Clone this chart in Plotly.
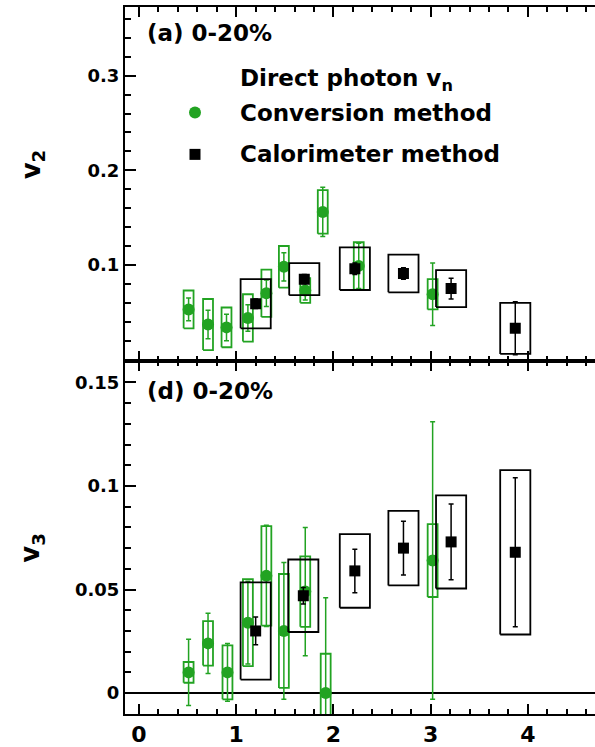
import plotly.graph_objects as go

# ---------------- data ----------------
# v2, conversion method
v2_conv_pt = [0.51, 0.71, 0.90, 1.12, 1.31, 1.49, 1.71, 1.89, 2.26, 3.02]
v2_conv = [0.053, 0.037, 0.034, 0.044, 0.070, 0.098, 0.073, 0.156, 0.099, 0.069]
v2_conv_stat = [0.012, 0.015, 0.014, 0.014, 0.014, 0.015, 0.010, 0.026, 0.024, 0.033]
v2_conv_sys = [0.020, 0.027, 0.021, 0.025, 0.025, 0.022, 0.013, 0.023, 0.025, 0.016]
# v2, calorimeter method
v2_calo_pt = [1.20, 1.70, 2.22, 2.72, 3.21, 3.87]
v2_calo = [0.059, 0.085, 0.096, 0.091, 0.075, 0.033]
v2_calo_stat = [0.005, 0.005, 0.006, 0.006, 0.011, 0.028]
v2_calo_sys = [0.026, 0.017, 0.0225, 0.020, 0.0195, 0.027]
# v3, conversion method
v3_conv_pt = [0.51, 0.71, 0.91, 1.12, 1.31, 1.49, 1.71, 1.92, 3.02]
v3_conv = [0.010, 0.024, 0.010, 0.034, 0.0566, 0.030, 0.049, 0.000, 0.064]
v3_conv_stat = [0.016, 0.0146, 0.014, 0.020, 0.0245, 0.033, 0.031, 0.046, 0.067]
v3_conv_sys = [0.005, 0.0107, 0.013, 0.021, 0.024, 0.0275, 0.017, 0.019, 0.0176]
# v3, calorimeter method
v3_calo_pt = [1.20, 1.69, 2.22, 2.72, 3.21, 3.87]
v3_calo = [0.030, 0.047, 0.059, 0.070, 0.073, 0.068]
v3_calo_stat = [0.0067, 0.004, 0.0105, 0.013, 0.0183, 0.036]
v3_calo_sys = [0.0235, 0.0175, 0.0178, 0.018, 0.0225, 0.0397]

x_ticks = [0, 1, 2, 3, 4]
v2_ticks = [0.1, 0.2, 0.3]
v2_ticktext = ["0.1", "0.2", "0.3"]
v3_ticks = [0, 0.05, 0.1, 0.15]
v3_ticktext = ["0", "0.05", "0.1", "0.15"]

GREEN = "#22a322"
FONT = "DejaVu Sans"

W, H = 595, 747
ML, MR, MT, MB = 125, 0, 7, 30
PW, PH = W - ML - MR, H - MT - MB


def box_path(xs, ys, sys, hw):
    px, py = [], []
    for x, y, s in zip(xs, ys, sys):
        px += [x - hw, x + hw, x + hw, x - hw, x - hw, None]
        py += [y - s, y - s, y + s, y + s, y - s, None]
    return px, py


fig = go.Figure()


def add_series(xs, ys, stat, sys, hw, color, symbol, size, xa, ya):
    bx, by = box_path(xs, ys, sys, hw)
    fig.add_trace(go.Scatter(x=bx, y=by, mode="lines", line=dict(color=color, width=1.8),
                             xaxis=xa, yaxis=ya, showlegend=False, hoverinfo="skip"))
    fig.add_trace(go.Scatter(x=xs, y=ys, mode="markers",
                             marker=dict(symbol=symbol, size=size, color=color),
                             error_y=dict(type="data", array=stat, color=color,
                                          thickness=1.5, width=2.5),
                             xaxis=xa, yaxis=ya, showlegend=False, cliponaxis=True))


# top panel (v2)
add_series(v2_conv_pt, v2_conv, v2_conv_stat, v2_conv_sys, 0.051, GREEN, "circle", 12, "x2", "y2")
add_series(v2_calo_pt, v2_calo, v2_calo_stat, v2_calo_sys, 0.155, "black", "square", 11, "x2", "y2")
# bottom panel (v3)
add_series(v3_conv_pt, v3_conv, v3_conv_stat, v3_conv_sys, 0.051, GREEN, "circle", 12, "x", "y")
add_series(v3_calo_pt, v3_calo, v3_calo_stat, v3_calo_sys, 0.155, "black", "square", 11, "x", "y")

xrange = [-0.144, 4.69]
common_x = dict(range=xrange, tickvals=x_ticks, ticks="inside", ticklen=10, tickwidth=1.5,
                tickcolor="black", showline=True, linecolor="black", linewidth=2,
                mirror="allticks", showgrid=False, zeroline=False,
                minor=dict(dtick=0.2, ticks="inside", ticklen=5, tickwidth=1.5, tickcolor="black"))

fig.update_layout(
    width=W, height=H,
    margin=dict(l=ML, r=MR, t=MT, b=MB),
    paper_bgcolor="white", plot_bgcolor="white",
    showlegend=False,
    font=dict(family=FONT, color="black"),
    xaxis=dict(domain=[0, 1], anchor="y",
               tickfont=dict(family=FONT, size=22, weight="bold", color="black"), **common_x),
    xaxis2=dict(domain=[0, 1], anchor="y2", matches="x", showticklabels=False, **common_x),
    yaxis=dict(domain=[0, 0.5], anchor="x", range=[-0.0101, 0.1606],
               tickvals=v3_ticks, ticktext=v3_ticktext,
               ticks="inside", ticklen=11, tickwidth=1.5, tickcolor="black",
               showline=True, linecolor="black", linewidth=2, showgrid=False,
               zeroline=True, zerolinecolor="black", zerolinewidth=1.5,
               tickfont=dict(family=FONT, size=18, weight="bold", color="black"),
               minor=dict(dtick=0.01, ticks="inside", ticklen=6, tickwidth=1.5, tickcolor="black")),
    yaxis2=dict(domain=[0.5, 1], anchor="x2", range=[-0.001, 0.3726],
                tickvals=v2_ticks, ticktext=v2_ticktext,
                ticks="inside", ticklen=11, tickwidth=1.5, tickcolor="black",
                showline=True, linecolor="black", linewidth=2, showgrid=False,
                zeroline=False,
                tickfont=dict(family=FONT, size=18, weight="bold", color="black"),
                minor=dict(dtick=0.02, ticks="inside", ticklen=6, tickwidth=1.5, tickcolor="black")),
)


def px_x(x):
    return (x - ML) / PW


def px_y(y):
    return (H - MB - y) / PH


ann_font = dict(family=FONT, size=23, weight="bold", color="black")
annotations = [
    dict(text="(a) 0-20%", x=px_x(145), y=px_y(33), xanchor="left", yanchor="middle"),
    dict(text="(d) 0-20%", x=px_x(145), y=px_y(393), xanchor="left", yanchor="middle"),
    dict(text="Direct photon v<sub>n</sub>", x=px_x(238), y=px_y(80), xanchor="left", yanchor="middle"),
    dict(text="Conversion method", x=px_x(238), y=px_y(113), xanchor="left", yanchor="middle"),
    dict(text="Calorimeter method", x=px_x(238), y=px_y(155), xanchor="left", yanchor="middle"),
]
for a in annotations:
    fig.add_annotation(xref="paper", yref="paper", showarrow=False, font=ann_font, **a)

for txt, yc in [("v<sub>2</sub>", 165), ("v<sub>3</sub>", 550)]:
    fig.add_annotation(xref="paper", yref="paper", showarrow=False, text=txt,
                       x=px_x(32), y=px_y(yc), xanchor="center", yanchor="middle",
                       textangle=-90, font=dict(family=FONT, size=26, weight="bold", color="black"))

# legend symbols
fig.add_shape(type="circle", xref="paper", yref="paper", xsizemode="pixel", ysizemode="pixel",
              xanchor=px_x(195), yanchor=px_y(113), x0=-6, x1=6, y0=-6, y1=6,
              fillcolor=GREEN, line=dict(color=GREEN, width=0))
fig.add_shape(type="rect", xref="paper", yref="paper", xsizemode="pixel", ysizemode="pixel",
              xanchor=px_x(195), yanchor=px_y(155), x0=-5.5, x1=5.5, y0=-5.5, y1=5.5,
              fillcolor="black", line=dict(color="black", width=0))

fig.write_html("out.html")
